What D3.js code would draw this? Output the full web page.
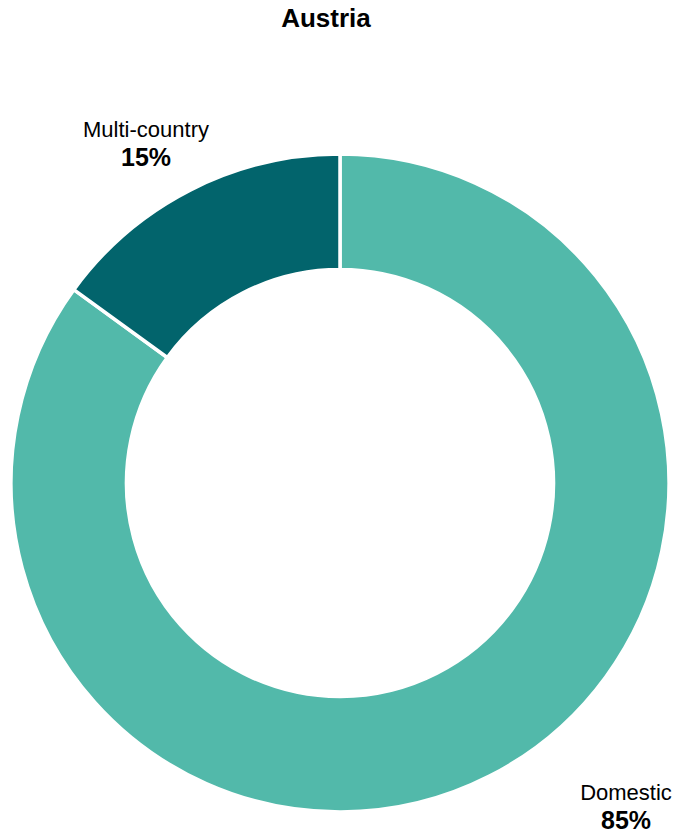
<!DOCTYPE html>
<html>
<head>
<meta charset="utf-8">
<script src="https://cdn.jsdelivr.net/npm/d3@7/dist/d3.min.js"></script>
<style>
  html, body { margin: 0; padding: 0; background: #fff; }
  svg text { font-family: "Liberation Sans", Arial, sans-serif; fill: #000; }
</style>
</head>
<body>
<svg id="chart" width="679" height="833"></svg>
<script>
// Share of Austrian projects by scope
const title = "Austria";
const categories = ["Domestic", "Multi-country"];
const shares = [85, 15];
const colors = ["#52b9aa", "#02646c"];

const width = 679, height = 833;
const cx = 340, cy = 483;
const outerR = 329, innerR = 213.5;

const svg = d3.select("#chart");

svg.append("text")
  .attr("x", 326).attr("y", 27)
  .attr("text-anchor", "middle")
  .attr("font-size", 26).attr("font-weight", "bold")
  .text(title);

const data = categories.map((c, i) => ({ category: c, value: shares[i], color: colors[i] }));

const pie = d3.pie().value(d => d.value).sort(null);
const arc = d3.arc().innerRadius(innerR).outerRadius(outerR);

const g = svg.append("g").attr("transform", `translate(${cx},${cy})`);

const arcs = pie(data);

g.selectAll("path")
  .data(arcs)
  .join("path")
  .attr("d", arc)
  .attr("fill", d => d.data.color)
  .attr("stroke", "#fff")
  .attr("stroke-width", 3.5)
  .attr("stroke-linejoin", "miter");

// Label anchors, offset from the ring centre per slice
const labelPos = {
  "Domestic": [286, 317],
  "Multi-country": [-194, -346]
};

const labels = g.selectAll("g.label")
  .data(arcs)
  .join("g")
  .attr("class", "label")
  .attr("transform", d => `translate(${labelPos[d.data.category][0]},${labelPos[d.data.category][1]})`);

labels.append("text")
  .attr("text-anchor", "middle")
  .attr("font-size", 22)
  .text(d => d.data.category);

labels.append("text")
  .attr("text-anchor", "middle")
  .attr("y", 28.5)
  .attr("font-size", 25)
  .attr("font-weight", "bold")
  .text(d => d.data.value + "%");
</script>
</body>
</html>
